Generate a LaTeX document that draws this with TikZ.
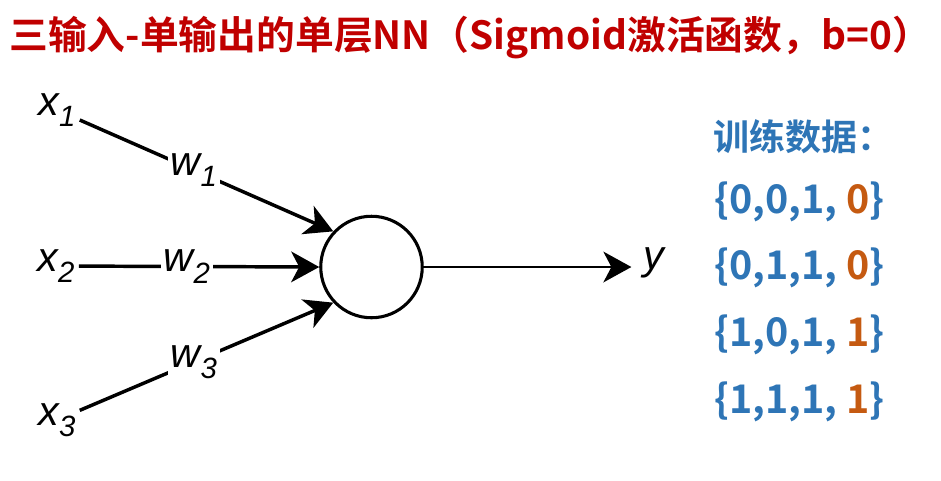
\documentclass[tikz,border=0pt]{standalone}
\usepackage{fontspec}
\usetikzlibrary{arrows.meta}
\newfontfamily\cjk{Noto Sans CJK SC}[BoldFont={* Bold}]
\newfontfamily\labfont{Liberation Sans}
\definecolor{titlered}{HTML}{C00000}
\definecolor{datablue}{HTML}{2E75B6}
\definecolor{dataorange}{HTML}{C55A11}
\newcommand{\lbl}[2]{{\labfont\itshape\fontsize{31pt}{31pt}\selectfont #1\raisebox{-8.5pt}{\fontsize{22pt}{22pt}\selectfont #2}}}
\begin{document}
\begin{tikzpicture}[x=0.75pt,y=-0.75pt,
  lab/.style={inner sep=2pt,fill=white},
  neuron/.style={circle,draw,line width=2.3pt,minimum size=101.5*0.75pt,inner sep=0pt},
  inarrow/.style={line width=2.6pt,-{Stealth[length=21pt,width=23pt,inset=6pt]}},
  outarrow/.style={line width=1.9pt,-{Stealth[length=21pt,width=23pt,inset=6pt]}},
  titletext/.style={font=\cjk\bfseries\fontsize{29.1pt}{31pt}\selectfont,text=titlered,inner sep=0pt,anchor=west},
  headtext/.style={font=\cjk\bfseries\fontsize{27pt}{30pt}\selectfont,text=datablue,inner sep=0pt,anchor=west},
  rowtext/.style={font=\cjk\bfseries\fontsize{29.6pt}{33pt}\selectfont,text=datablue,inner sep=0pt,anchor=west}]
\useasboundingbox (0,0) rectangle (941,480);
\fill[white] (0,0) rectangle (941,480);
% title
\node[titletext] (title) at (9,38) {三输入-单输出的单层NN（Sigmoid激活函数，b=0）};
% neuron
\node[neuron] (n) at (371.5,267) {};
% inputs
\node[inner sep=3pt] (x1) at (57,110) {\lbl{x}{1}};
\node[inner sep=3pt] (x2) at (56,266) {\lbl{x}{2}};
\node[inner sep=3pt] (x3) at (57,420) {\lbl{x}{3}};
\node[inner sep=0pt] (y) at (654,264) {\lbl{y}{}};
\draw[inarrow] (x1) -- node[lab,pos=0.45] (w1) {\lbl{w}{1}} (n.137);
\draw[inarrow] (x2) -- node[lab,pos=0.45] (w2) {\lbl{w}{2}} (n.west);
\draw[inarrow] (x3) -- node[lab,pos=0.45] (w3) {\lbl{w}{3}} (n.223);
\draw[outarrow,shorten >=9pt] (n.east) -- (y.west |- n.east);
% training data
\node[headtext] (head) at (713,137) {训练数据：};
\node[rowtext] (r1) at (714,202) {\{0,0,1, \textcolor{dataorange}{0}\}};
\node[rowtext] (r2) at (714,268) {\{0,1,1, \textcolor{dataorange}{0}\}};
\node[rowtext] (r3) at (714,335) {\{1,0,1, \textcolor{dataorange}{1}\}};
\node[rowtext] (r4) at (714,402) {\{1,1,1, \textcolor{dataorange}{1}\}};
\end{tikzpicture}
\end{document}
